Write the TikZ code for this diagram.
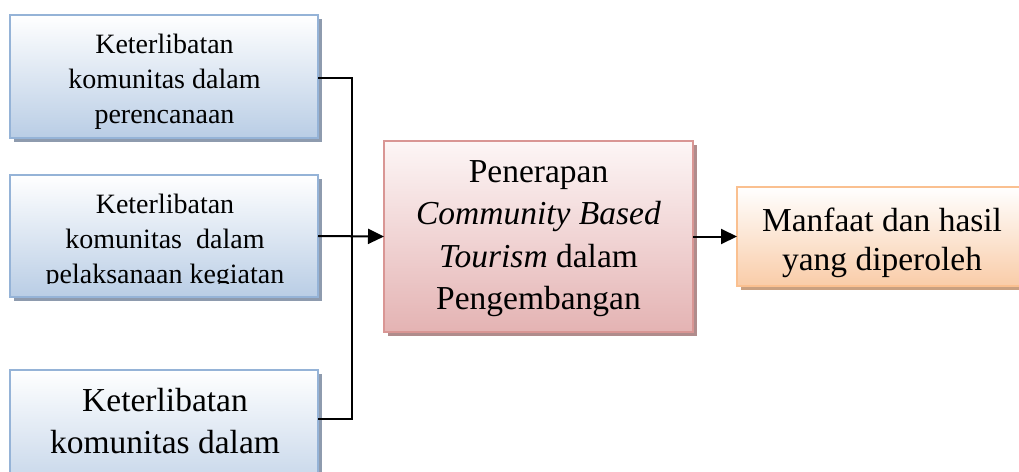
\documentclass[tikz,border=0pt]{standalone}
\usepackage{fontspec}
\setmainfont{Liberation Serif}
\usetikzlibrary{arrows.meta,shadows}
\definecolor{bluetop}{HTML}{FFFFFF}
\definecolor{bluebot}{HTML}{B9CDE5}
\definecolor{blueline}{HTML}{95B3D7}
\definecolor{blueshadow}{HTML}{8E9BAE}
\definecolor{pinktop}{HTML}{FDF6F6}
\definecolor{pinkbot}{HTML}{E4B3B3}
\definecolor{pinkline}{HTML}{D99694}
\definecolor{pinkshadow}{HTML}{B08C8C}
\definecolor{orgtop}{HTML}{FFFFFF}
\definecolor{orgbot}{HTML}{F9CCA8}
\definecolor{orgline}{HTML}{FAC090}
\definecolor{orgshadow}{HTML}{C9A080}
\tikzset{
  boxbase/.style={rectangle, draw, line width=1.6pt, inner sep=0pt, outer sep=0pt, anchor=north west},
  bluebox/.style={boxbase, draw=blueline, top color=bluetop, bottom color=bluebot,
     drop shadow={shadow xshift=3.5pt, shadow yshift=-3.5pt, fill=blueshadow, opacity=1}},
  pinkbox/.style={boxbase, draw=pinkline, top color=pinktop, bottom color=pinkbot,
     drop shadow={shadow xshift=3.5pt, shadow yshift=-3.5pt, fill=pinkshadow, opacity=1}},
  orgbox/.style={boxbase, draw=orgline, top color=orgtop, bottom color=orgbot,
     drop shadow={shadow xshift=3.5pt, shadow yshift=-3.5pt, fill=orgshadow, opacity=1}},
  smalltext/.style={inner sep=0pt, align=center, font=\fontsize{28}{35}\selectfont},
  bigtext/.style={inner sep=0pt, align=center, font=\fontsize{33.5}{42.5}\selectfont},
  orgtext/.style={inner sep=0pt, align=center, font=\fontsize{33.5}{38.5}\selectfont},
  conn/.style={line width=2pt},
  arr/.style={line width=2pt, -{Triangle[length=16pt, width=15pt]}}
}
\begin{document}
\begin{tikzpicture}[x=1pt, y=-1pt]
\useasboundingbox (0,0) rectangle (1019,471);
\clip (0,0) rectangle (1019,471);
\node[bluebox, minimum width=308pt, minimum height=123pt] (b1) at (10,15) {};
\node[smalltext] (b1t) at (164.5,81.5) {Keterlibatan\\komunitas dalam\\perencanaan};
\node[bluebox, minimum width=308pt, minimum height=122pt] (b2) at (10,175) {};
\begin{scope}
\clip (10,175) rectangle (318,283.6);
\node[smalltext] (b2t) at (165,241.5) {Keterlibatan\\komunitas \ dalam\\pelaksanaan kegiatan};
\end{scope}
\node[bluebox, minimum width=308pt, minimum height=140pt] (b3) at (10,370) {};
\node[bigtext, anchor=base] (b3t1) at (165,411) {Keterlibatan};
\node[bigtext, anchor=base] (b3t2) at (165,453) {komunitas dalam};
\node[pinkbox, minimum width=309pt, minimum height=191pt] (c) at (384,141) {};
\node[bigtext] (ct) at (538.5,238.5) {Penerapan\\\textit{Community Based}\\\textit{Tourism} dalam\\Pengembangan};
\node[orgbox, minimum width=320pt, minimum height=99pt] (m) at (737,187) {};
\node[orgtext] (mt) at (882,243) {Manfaat dan hasil\\yang diperoleh};
\coordinate (j1) at (351.5,78);
\coordinate (j3) at (351.5,419);
\draw[conn] (b1.east |- j1) -- (j1) -- (j3) -- (b3.east |- j3);
\draw[arr] (b2.east) -- (c.west);
\draw[arr] (c.east) -- (m.west |- c.east);
\end{tikzpicture}
\end{document}
